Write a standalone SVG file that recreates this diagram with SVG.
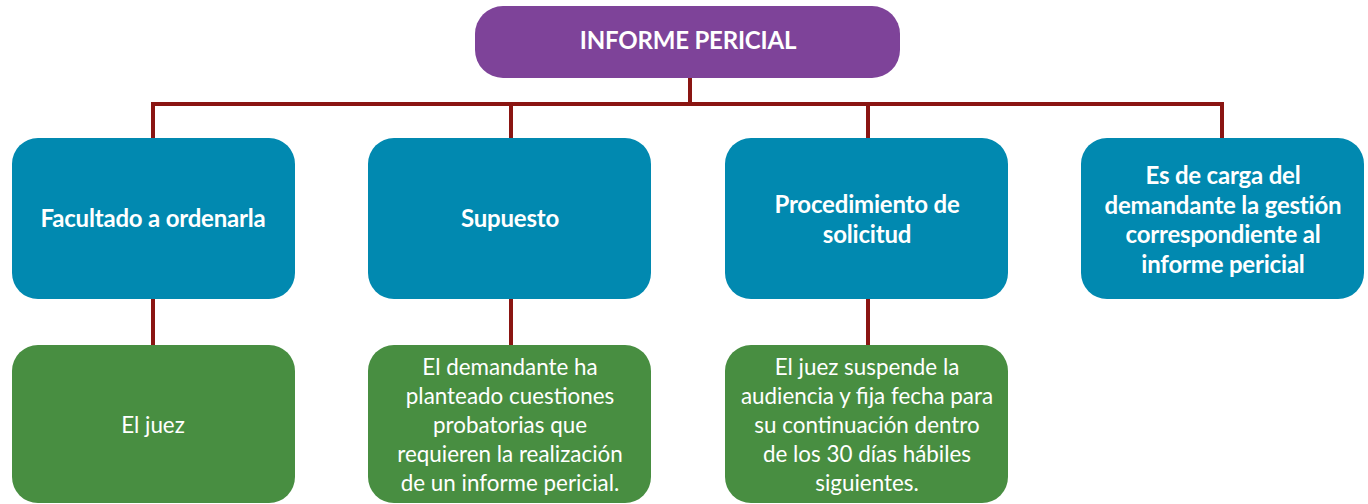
<svg xmlns="http://www.w3.org/2000/svg" width="1368" height="504" viewBox="0 0 1368 504">
<style>
.root{fill:#7E4399}
.blue{fill:#0189B0}
.green{fill:#488E41}
.t{font-family:Lato,"Noto Sans",sans-serif;fill:#fff;text-anchor:middle}
.b{font-weight:bold;font-size:24px;letter-spacing:-0.2px}
.r{font-size:22.4px}
.c{stroke:#8A1512;stroke-width:4;fill:none}
</style>
<rect width="1368" height="504" fill="#fff"/>
<g id="connectors">
<path class="c" d="M690 77V104M153 104H1222M153 102V140M511 102V140M868 102V140M1222 102V140M153 298V347M511 298V347M868 298V347"/>
</g>
<g id="root">
<rect class="root" x="475" y="6" width="425" height="72" rx="28"/>
<text class="t b" x="688" y="49">INFORME PERICIAL</text>
</g>
<g id="n1">
<rect class="blue" x="12" y="138" width="283" height="161" rx="26"/>
<text class="t b" x="153" y="227">Facultado a ordenarla</text>
</g>
<g id="n2">
<rect class="blue" x="368" y="138" width="283" height="161" rx="26"/>
<text class="t b" x="510" y="227">Supuesto</text>
</g>
<g id="n3">
<rect class="blue" x="725" y="138" width="283" height="161" rx="26"/>
<text class="t b" x="867" y="213">Procedimiento de</text>
<text class="t b" x="867" y="243">solicitud</text>
</g>
<g id="n4">
<rect class="blue" x="1081" y="138" width="283" height="161" rx="26"/>
<text class="t b" x="1223" y="184">Es de carga del</text>
<text class="t b" x="1223" y="214">demandante la gestión</text>
<text class="t b" x="1223" y="243">correspondiente al</text>
<text class="t b" x="1223" y="273">informe pericial</text>
</g>
<g id="g1">
<rect class="green" x="12" y="345" width="283" height="158" rx="26"/>
<text class="t r" x="153" y="433">El juez</text>
</g>
<g id="g2">
<rect class="green" x="368" y="345" width="283" height="158" rx="26"/>
<text class="t r" x="510" y="375">El demandante ha</text>
<text class="t r" x="510" y="404">planteado cuestiones</text>
<text class="t r" x="510" y="433">probatorias que</text>
<text class="t r" x="510" y="462">requieren la realización</text>
<text class="t r" x="510" y="491">de un informe pericial.</text>
</g>
<g id="g3">
<rect class="green" x="725" y="345" width="283" height="158" rx="26"/>
<text class="t r" x="867" y="375">El juez suspende la</text>
<text class="t r" x="867" y="404">audiencia y fija fecha para</text>
<text class="t r" x="867" y="433">su continuación dentro</text>
<text class="t r" x="867" y="462">de los 30 días hábiles</text>
<text class="t r" x="867" y="491">siguientes.</text>
</g>
</svg>
